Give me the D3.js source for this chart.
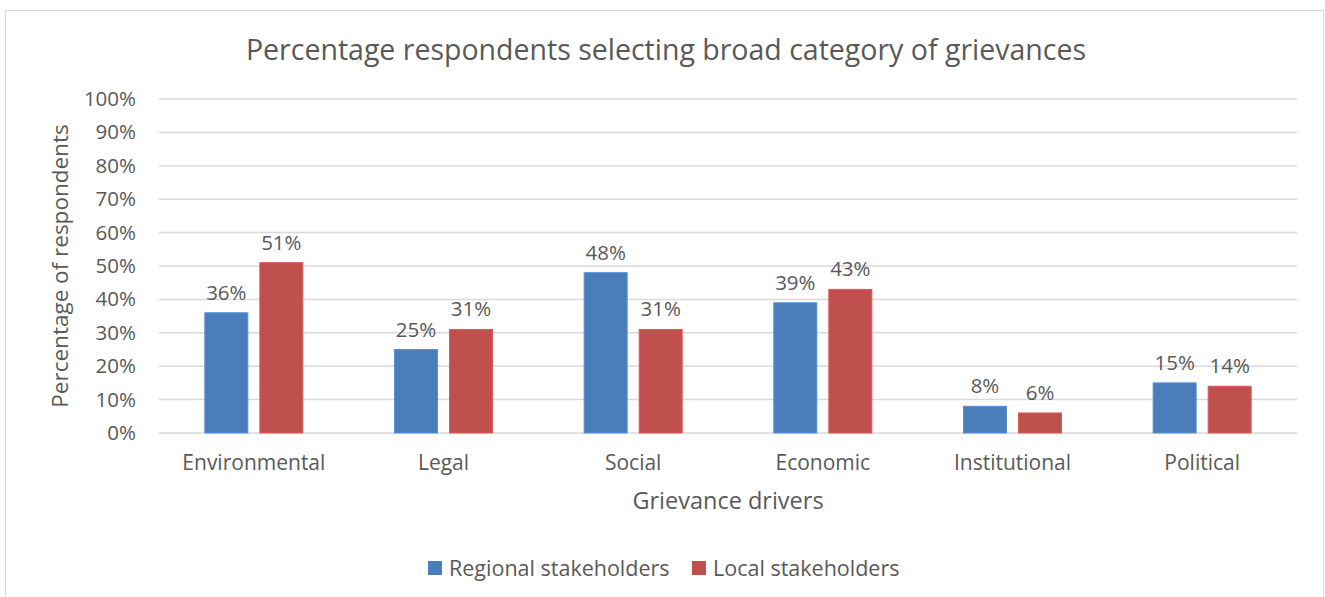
<!DOCTYPE html>
<html>
<head>
<meta charset="utf-8">
<script src="https://cdn.jsdelivr.net/npm/d3@7"></script>
<style>
  body { margin: 0; background: #fff; }
  text { font-family: "Open Sans", sans-serif; fill: #595959; }
</style>
</head>
<body>
<svg id="chart" width="1325" height="597"></svg>
<script>
const categories = ["Environmental", "Legal", "Social", "Economic", "Institutional", "Political"];
const seriesNames = ["Regional stakeholders", "Local stakeholders"];
const regional = [36, 25, 48, 39, 8, 15];
const local = [51, 31, 31, 43, 6, 14];
const yTicks = [0, 10, 20, 30, 40, 50, 60, 70, 80, 90, 100];
const colors = ["#4a7ebb", "#c0504d"];

const svg = d3.select("#chart");

// chart frame
svg.append("rect")
  .attr("x", 5.5).attr("y", 10.5)
  .attr("width", 1318).attr("height", 600)
  .attr("fill", "#fff")
  .attr("stroke", "#d9d9d9");

const plotLeft = 159, plotRight = 1297, plotTop = 99, plotBottom = 433;

const x = d3.scaleBand().domain(categories).range([plotLeft, plotRight]);
const xs = d3.scaleBand().domain([0, 1]).range([0, x.bandwidth()]).paddingInner(0.218).paddingOuter(0.833);
const y = d3.scaleLinear().domain([0, 100]).range([plotBottom, plotTop]);

// gridlines
svg.append("g")
  .selectAll("line")
  .data(yTicks)
  .enter().append("line")
  .attr("x1", plotLeft).attr("x2", plotRight)
  .attr("y1", d => y(d)).attr("y2", d => y(d))
  .attr("stroke", "#d9d9d9")
  .attr("stroke-width", 1.5);

// y axis labels
const yAxis = svg.append("g")
  .attr("transform", `translate(${plotLeft - 23},0)`)
  .call(d3.axisLeft(y).tickValues(yTicks).tickFormat(d => d + "%").tickSize(0).tickPadding(0));
yAxis.select(".domain").remove();
yAxis.selectAll("text").style("font-size", "20.5px").attr("fill", "#595959");

// x axis labels
const xAxis = svg.append("g")
  .attr("transform", `translate(0,${plotBottom})`)
  .call(d3.axisBottom(x).tickSize(0).tickPadding(22));
xAxis.select(".domain").remove();
xAxis.selectAll("text").style("font-size", "21px").attr("fill", "#595959");

const data = categories.map((c, i) => ({ cat: c, values: [regional[i], local[i]] }));

const group = svg.append("g")
  .selectAll("g")
  .data(data)
  .enter().append("g")
  .attr("transform", d => `translate(${x(d.cat)},0)`);

group.selectAll("rect")
  .data(d => d.values.map((v, k) => ({ v, k })))
  .enter().append("rect")
  .attr("x", d => xs(d.k))
  .attr("width", xs.bandwidth())
  .attr("y", d => y(d.v))
  .attr("height", d => y(0) - y(d.v))
  .attr("fill", d => colors[d.k])
  .attr("stroke", d => d3.color(colors[d.k]).brighter(0.4))
  .attr("stroke-width", 1);

group.selectAll("text.val")
  .data(d => d.values.map((v, k) => ({ v, k })))
  .enter().append("text")
  .attr("class", "val")
  .attr("x", d => xs(d.k) + xs.bandwidth() / 2)
  .attr("y", d => y(d.v) - 13)
  .attr("text-anchor", "middle")
  .style("font-size", "20.5px")
  .text(d => d.v + "%");

// title
svg.append("text")
  .attr("x", 666).attr("y", 60)
  .attr("text-anchor", "middle")
  .style("font-size", "28.5px")
  .text("Percentage respondents selecting broad category of grievances");

// axis titles
svg.append("text")
  .attr("x", (plotLeft + plotRight) / 2).attr("y", 509)
  .attr("text-anchor", "middle")
  .style("font-size", "23.5px")
  .text("Grievance drivers");

svg.append("text")
  .attr("transform", `translate(68,${(plotTop + plotBottom) / 2}) rotate(-90)`)
  .attr("text-anchor", "middle")
  .style("font-size", "22.5px")
  .text("Percentage of respondents");

// legend
const legendX = [428, 692];
const legend = svg.append("g")
  .selectAll("g")
  .data(seriesNames)
  .enter().append("g")
  .attr("transform", (d, i) => `translate(${legendX[i]},561)`);
legend.append("rect")
  .attr("width", 14).attr("height", 14)
  .attr("fill", (d, i) => colors[i]);
legend.append("text")
  .attr("x", 21).attr("y", 14.5)
  .style("font-size", "21.5px")
  .text(d => d);
</script>
</body>
</html>
